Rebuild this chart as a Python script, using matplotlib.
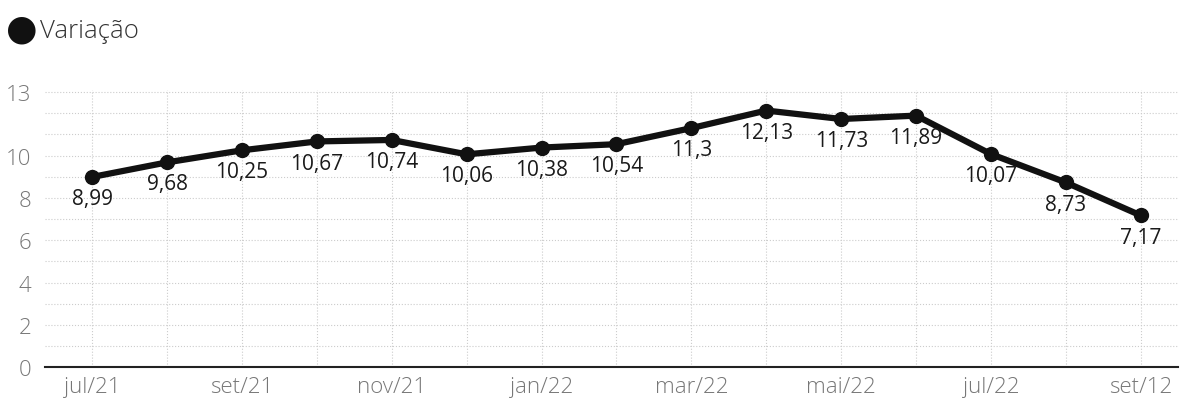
import matplotlib
matplotlib.use("Agg")
import matplotlib.pyplot as plt

# dados
meses = ["jul/21", "ago/21", "set/21", "out/21", "nov/21", "dez/21", "jan/22", "fev/22",
         "mar/22", "abr/22", "mai/22", "jun/22", "jul/22", "ago/22", "set/12"]
variacao = [8.99, 9.68, 10.25, 10.67, 10.74, 10.06, 10.38, 10.54,
            11.3, 12.13, 11.73, 11.89, 10.07, 8.73, 7.17]
yticks = [0, 2, 4, 6, 8, 10, 13]

plt.rcParams['font.family'] = ['Open Sans', 'DejaVu Sans']

fig = plt.figure(figsize=(11.83, 4.10), dpi=100)
ax = fig.add_axes([0.038, 0.102, 0.958, 0.676])

x = list(range(len(meses)))
ax.plot(x, variacao, color="#111111", lw=4.5, marker="o", ms=10, zorder=3, solid_capstyle="round")

# rótulos dos pontos
for xi, v in zip(x, variacao):
    txt = f"{v:g}".replace(".", ",")
    ax.annotate(txt, (xi, v), xytext=(0, -8), textcoords="offset points",
                ha="center", va="top", fontsize=15, color="#1a1a1a")

ax.set_xlim(-0.63, 14.5)
ax.set_ylim(0, 13.1)
ax.set_yticks(yticks)
ax.set_xticks(x[::2])
ax.set_xticklabels(meses[::2])

# grade pontilhada
for yy in range(0, 14):
    ax.axhline(yy, color="#cccccc", lw=0.8, ls=":", zorder=0)
for xi in x:
    ax.axvline(xi, color="#cccccc", lw=0.8, ls=":", zorder=0)

for s in ["top", "right", "left"]:
    ax.spines[s].set_visible(False)
ax.spines["bottom"].set_color("#222222")
ax.spines["bottom"].set_linewidth(1.5)
ax.tick_params(length=0, labelsize=16, colors="#777777", pad=6)
ax.tick_params(axis="y", pad=10)
for lbl in ax.get_xticklabels() + ax.get_yticklabels():
    lbl.set_fontweight("light")

# legenda
fig.text(0.018, 0.925, "\u25cf", fontsize=26, color="#111111", va="center", ha="center")
fig.text(0.034, 0.922, "Variação", fontsize=18.5, color="#333333", va="center", fontweight="light")

fig.savefig("out.png", dpi=100)
